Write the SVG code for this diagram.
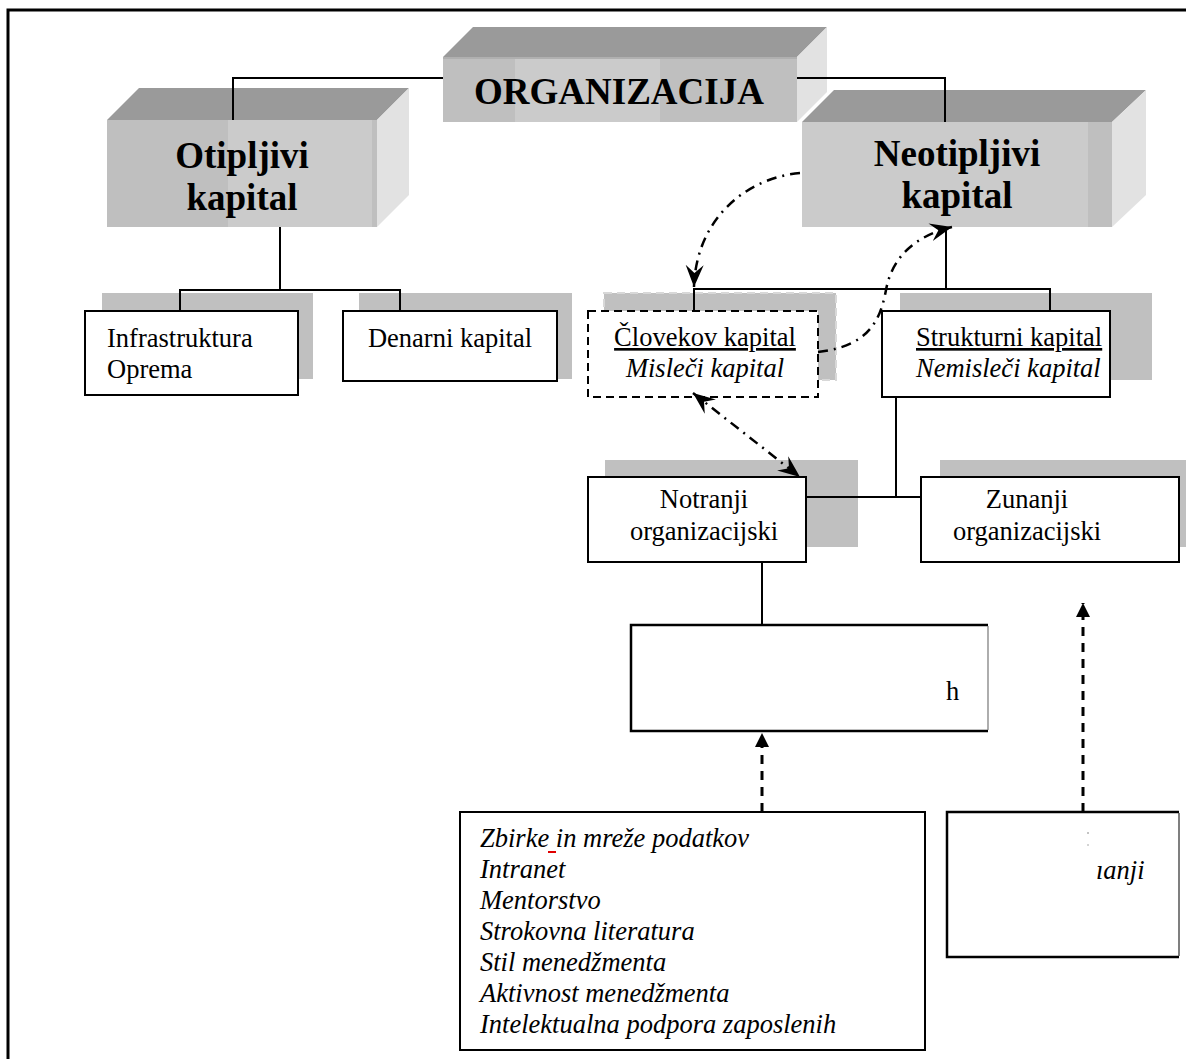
<svg xmlns="http://www.w3.org/2000/svg" width="1186" height="1059" viewBox="0 0 1186 1059">
  <style>
    .t { font-family: "Liberation Serif", "Times New Roman", serif; font-size: 26.5px; fill: #000; }
    .i { font-style: italic; }
    .b { font-family: "Liberation Serif", "Times New Roman", serif; font-weight: bold; font-size: 37px; fill: #000; }
    .box { fill: #fff; stroke: #000; stroke-width: 2; }
    .shadow { fill: #c0c0c0; }
    .top { fill: #9a9a9a; }
    .side { fill: #e2e2e2; }
    .frontA { fill: #bfbfbf; }
    .frontB { fill: #cbcbcb; }
    .ln { fill: none; stroke: #000; stroke-width: 2; }
    .dd { fill: none; stroke: #000; stroke-width: 2.5; stroke-dasharray: 10 6 2 6; }
    .dash { fill: none; stroke: #000; stroke-width: 3; stroke-dasharray: 9 7; }
  </style>
  <defs>
    <marker id="stealth" viewBox="-22 -10 24 20" refX="0" refY="0" markerWidth="24" markerHeight="20" markerUnits="userSpaceOnUse" orient="auto-start-reverse">
      <path d="M0,0 L-22,-9 L-14,0 L-22,9 Z" fill="#000"/>
    </marker>
    <marker id="tri" viewBox="-14 -8 15 16" refX="0" refY="0" markerWidth="15" markerHeight="16" markerUnits="userSpaceOnUse" orient="auto">
      <path d="M0,0 L-14,-7 L-14,7 Z" fill="#000"/>
    </marker>
  </defs>

  <rect width="1186" height="1059" fill="#fff"/>
  <!-- page frame -->
  <path d="M8,1059 V10 H1186" fill="none" stroke="#000" stroke-width="3"/>

  <!-- 3D block: ORGANIZACIJA -->
  <g id="organizacija">
    <polygon class="top" points="443,57 473,27 827,27 797,57"/>
    <polygon class="side" points="797,57 827,27 827,92 797,122"/>
    <rect class="frontA" x="443" y="57" width="354" height="65"/>
    <rect class="frontB" x="515" y="57" width="145" height="65"/>
    <line x1="443" y1="58" x2="797" y2="58" stroke="#b0b0b0" stroke-width="2"/>
    <text class="b" x="619" y="104" text-anchor="middle">ORGANIZACIJA</text>
  </g>

  <!-- 3D block: Otipljivi kapital -->
  <g id="otipljivi">
    <polygon class="top" points="107,120 139,88 409,88 377,120"/>
    <polygon class="side" points="377,120 409,88 409,195 377,227"/>
    <rect class="frontA" x="107" y="120" width="270" height="107"/>
    <rect class="frontB" x="228" y="120" width="144" height="107"/>
    <text class="b" x="242" y="168" text-anchor="middle">Otipljivi</text>
    <text class="b" x="242" y="210" text-anchor="middle">kapital</text>
  </g>

  <!-- 3D block: Neotipljivi kapital -->
  <g id="neotipljivi">
    <polygon class="top" points="802,122 834,90 1146,90 1112,122"/>
    <polygon class="side" points="1112,122 1146,90 1146,195 1112,227"/>
    <rect class="frontB" x="802" y="122" width="310" height="105"/>
    <rect class="frontA" x="1088" y="122" width="24" height="105"/>
    <text class="b" x="957" y="166" text-anchor="middle">Neotipljivi</text>
    <text class="b" x="957" y="208" text-anchor="middle">kapital</text>
  </g>

  <g id="infrastruktura">
    <rect class="shadow" x="102" y="293" width="211" height="86"/>
    <rect class="box" x="85" y="311" width="213" height="84"/>
    <text class="t" x="107" y="347">Infrastruktura</text>
    <text class="t" x="107" y="378">Oprema</text>
  </g>

  <g id="denarni">
    <rect class="shadow" x="359" y="293" width="213" height="86"/>
    <rect class="box" x="343" y="311" width="214" height="70"/>
    <text class="t" x="450" y="347" text-anchor="middle">Denarni kapital</text>
  </g>

  <g id="clovekov">
    <rect class="shadow" x="604" y="293" width="232" height="87" stroke="#d8d8d8" stroke-width="2" stroke-dasharray="8 5"/>
    <rect x="588" y="311" width="230" height="86" fill="#fff" stroke="#000" stroke-width="2" stroke-dasharray="8 5"/>
    <text class="t" x="705" y="346" text-anchor="middle" text-decoration="underline">Človekov kapital</text>
    <text class="t i" x="705" y="377" text-anchor="middle">Misleči kapital</text>
  </g>

  <g id="strukturni">
    <rect class="shadow" x="900" y="293" width="252" height="87"/>
    <rect class="box" x="882" y="311" width="228" height="86"/>
    <text class="t" x="916" y="346" text-decoration="underline">Strukturni kapital</text>
    <text class="t i" x="916" y="377">Nemisleči kapital</text>
  </g>

  <g id="notranji">
    <rect class="shadow" x="605" y="460" width="253" height="87"/>
    <rect class="box" x="588" y="477" width="218" height="85"/>
    <text class="t" x="704" y="508" text-anchor="middle">Notranji</text>
    <text class="t" x="704" y="540" text-anchor="middle">organizacijski</text>
  </g>

  <g id="zunanji">
    <rect class="shadow" x="940" y="460" width="250" height="87"/>
    <rect class="box" x="921" y="477" width="258" height="85"/>
    <text class="t" x="1027" y="508" text-anchor="middle">Zunanji</text>
    <text class="t" x="1027" y="540" text-anchor="middle">organizacijski</text>
  </g>

  <g id="box-h">
    <rect x="631" y="625" width="357" height="106" fill="#fff"/>
    <path d="M988,625 H631 V731 H988" fill="none" stroke="#000" stroke-width="2.5"/>
    <line x1="988" y1="626" x2="988" y2="730" stroke="#777" stroke-width="1.2"/>
    <text class="t" x="946" y="700">h</text>
  </g>

  <g id="seznam">
    <rect class="box" x="460" y="812" width="465" height="238"/>
    <line x1="548" y1="852" x2="556" y2="852" stroke="#e00000" stroke-width="2"/>
    <text class="t i" x="480" y="847">Zbirke in mreže podatkov</text>
    <text class="t i" x="480" y="878">Intranet</text>
    <text class="t i" x="480" y="909">Mentorstvo</text>
    <text class="t i" x="480" y="940">Strokovna literatura</text>
    <text class="t i" x="480" y="971">Stil menedžmenta</text>
    <text class="t i" x="480" y="1002">Aktivnost menedžmenta</text>
    <text class="t i" x="480" y="1033">Intelektualna podpora zaposlenih</text>
  </g>

  <g id="box-zunanji-viri">
    <rect x="947" y="812" width="232" height="145" fill="#fff"/>
    <path d="M1179,812 H947 V957 H1179" fill="none" stroke="#000" stroke-width="2.5"/>
    <line x1="1179" y1="813" x2="1179" y2="956" stroke="#555" stroke-width="1.5"/>
    <line x1="1088" y1="832" x2="1088" y2="834" stroke="#888" stroke-width="1"/>
    <line x1="1088" y1="844" x2="1088" y2="846" stroke="#aaa" stroke-width="1"/>
    <text class="t i" x="1096" y="879">ıanji</text>
  </g>

  <!-- connectors, drawn over the blocks -->
  <g id="connectors">
    <polyline class="ln" points="443,78 233,78 233,120"/>
    <polyline class="ln" points="797,78 945,78 945,122"/>
    <line class="ln" x1="280" y1="227" x2="280" y2="290"/>
    <polyline class="ln" points="180,311 180,290 400,290 400,311"/>
    <line class="ln" x1="946" y1="230" x2="946" y2="289"/>
    <polyline class="ln" points="694,311 694,289 1050,289 1050,311" stroke-width="3"/>
    <line class="ln" x1="896" y1="397" x2="896" y2="497"/>
    <line class="ln" x1="806" y1="497" x2="921" y2="497"/>
    <line class="ln" x1="762" y1="562" x2="762" y2="625"/>
    <path class="dd" d="M800,173 C745,178 696,220 694,287" marker-end="url(#stealth)"/>
    <path class="dd" d="M818,352 C868,346 880,322 886,290 C892,257 915,236 952,227" marker-end="url(#stealth)"/>
    <line class="dd" x1="693" y1="393" x2="800" y2="477" marker-start="url(#stealth)" marker-end="url(#stealth)"/>
    <line class="dash" x1="762" y1="812" x2="762" y2="733" marker-end="url(#tri)"/>
    <line class="dash" x1="1083" y1="812" x2="1083" y2="603" marker-end="url(#tri)"/>
  </g>
</svg>
